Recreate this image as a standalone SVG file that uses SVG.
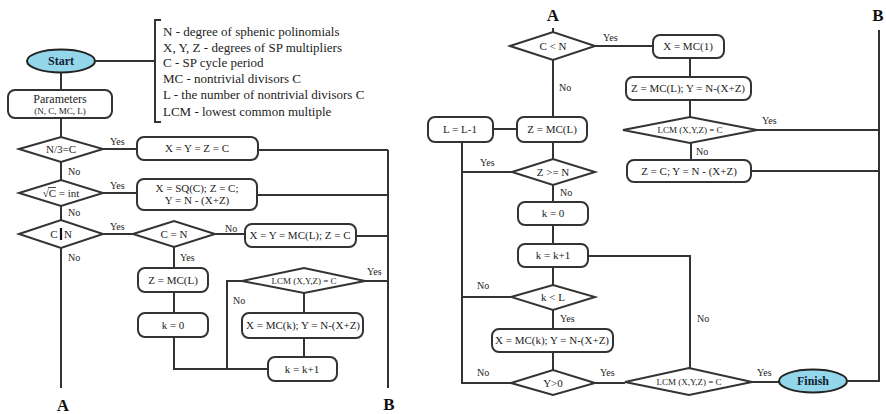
<svg xmlns="http://www.w3.org/2000/svg" width="886" height="414" viewBox="0 0 886 414">
  <style>
    .ln { stroke: #333; stroke-width: 2; fill: none; }
    .bx { fill: #fff; stroke: #333; stroke-width: 2; }
    .term { fill: #94d6ea; stroke: #222; stroke-width: 2; }
    text { font-family: "Liberation Serif", "Times New Roman", serif; fill: #222; }
    .c { text-anchor: middle; font-size: 11px; }
    .s { text-anchor: middle; font-size: 9px; }
    .lab { font-size: 10px; fill: #333; }
    .leg { font-size: 13px; }
    .big { font-size: 17px; font-weight: bold; text-anchor: middle; fill: #111; }
    .tt { font-size: 12px; font-weight: bold; text-anchor: middle; fill: #123; }
  </style>
  <rect width="886" height="414" fill="#fff"/>

  <!-- connectors -->
  <g id="connectors" class="ln">
    <!-- left half -->
    <path d="M61,72 V90"/>
    <path d="M95,61 H155"/>
    <path d="M61,118 V137"/>
    <path d="M61,162 V180"/>
    <path d="M61,206 V220"/>
    <path d="M61,248 V388"/>
    <path d="M103,149 H137"/>
    <path d="M258,150 H388"/>
    <path d="M103,193 H137"/>
    <path d="M257,195 H388"/>
    <path d="M103,234 H133"/>
    <path d="M215,234 H245"/>
    <path d="M356,236 H388"/>
    <path d="M174,247 V268"/>
    <path d="M174,292 V313"/>
    <path d="M174,337 V369 H268"/>
    <path d="M227,369 V281 H242"/>
    <path d="M365,281 H388"/>
    <path d="M304,293 V313"/>
    <path d="M304,338 V357"/>
    <path d="M388,150 V388"/>
    <!-- right half -->
    <path d="M553,28 V32"/>
    <path d="M595,46 H653"/>
    <path d="M553,60 V117"/>
    <path d="M493,129 H517"/>
    <path d="M690,58 V77"/>
    <path d="M690,100 V117"/>
    <path d="M757,130 H879"/>
    <path d="M691,143 V160"/>
    <path d="M751,171 H879"/>
    <path d="M879,30 V381 H847"/>
    <path d="M462,142 V383 H511"/>
    <path d="M462,172 H512"/>
    <path d="M553,141 V159"/>
    <path d="M553,185 V202"/>
    <path d="M553,225 V244"/>
    <path d="M553,267 V285"/>
    <path d="M462,297 H511"/>
    <path d="M553,310 V329"/>
    <path d="M553,352 V370"/>
    <path d="M588,256 H690 V368"/>
    <path d="M595,383 H625"/>
    <path d="M752,382 H779"/>
  </g>

  <!-- legend -->
  <g id="legend">
    <path class="ln" d="M161,20 H155 V122 H161"/>
    <text class="leg" x="163" y="36">N - degree of sphenic polinomials</text>
    <text class="leg" x="163" y="52">X, Y, Z - degrees of SP multipliers</text>
    <text class="leg" x="163" y="67">C - SP cycle period</text>
    <text class="leg" x="163" y="83">MC - nontrivial divisors C</text>
    <text class="leg" x="163" y="99">L - the number of nontrivial divisors C</text>
    <text class="leg" x="163" y="116">LCM - lowest common multiple</text>
  </g>

  <!-- left half nodes -->
  <g id="start">
    <ellipse class="term" cx="61" cy="61" rx="34" ry="11.5"/>
    <text class="tt" x="61" y="65">Start</text>
  </g>
  <g id="parameters">
    <rect class="bx" x="8" y="90" width="104" height="28" rx="7"/>
    <text class="c" x="60" y="103" style="font-size:12px">Parameters</text>
    <text class="s" x="60" y="114">(N, C, MC, L)</text>
  </g>
  <g id="d-n3c">
    <polygon class="bx" points="19,149 61,137 103,149 61,162"/>
    <text class="c" x="61" y="153">N/3=C</text>
  </g>
  <g id="b-xyzc">
    <rect class="bx" x="137" y="137" width="121" height="23" rx="7"/>
    <text class="c" x="197" y="152">X = Y = Z = C</text>
  </g>
  <g id="d-sqrt">
    <polygon class="bx" points="19,193 61,180 103,193 61,206"/>
    <text class="c" x="61" y="197">√C = int</text>
    <path d="M48,187.5 H56" stroke="#222" stroke-width="0.8"/>
  </g>
  <g id="b-sq">
    <rect class="bx" x="137" y="179" width="120" height="31" rx="7"/>
    <text class="c" x="197" y="192">X = SQ(C);  Z = C;</text>
    <text class="c" x="197" y="204">Y = N - (X+Z)</text>
  </g>
  <g id="d-cn">
    <polygon class="bx" points="19,234 61,220 103,234 61,248"/>
    <text class="c" x="54" y="238">C</text>
    <text class="c" x="68" y="238">N</text>
    <path d="M61,228 V240" stroke="#111" stroke-width="2.2"/>
  </g>
  <g id="d-ceqn">
    <polygon class="bx" points="133,234 174,221 215,234 174,247"/>
    <text class="c" x="174" y="238">C = N</text>
  </g>
  <g id="b-xymc">
    <rect class="bx" x="245" y="224" width="111" height="23" rx="7"/>
    <text class="c" x="300" y="239">X = Y = MC(L);  Z = C</text>
  </g>
  <g id="b-zmc1">
    <rect class="bx" x="138" y="268" width="70" height="24" rx="7"/>
    <text class="c" x="173" y="284">Z = MC(L)</text>
  </g>
  <g id="b-k0a">
    <rect class="bx" x="138" y="313" width="70" height="24" rx="7"/>
    <text class="c" x="173" y="329">k = 0</text>
  </g>
  <g id="d-lcm1">
    <polygon class="bx" points="242,281 304,268 365,281 304,293"/>
    <text class="s" x="304" y="284">LCM (X,Y,Z) = C</text>
  </g>
  <g id="b-xmk1">
    <rect class="bx" x="242" y="313" width="121" height="25" rx="7"/>
    <text class="c" x="303" y="329">X = MC(k);  Y = N-(X+Z)</text>
  </g>
  <g id="b-kk1a">
    <rect class="bx" x="268" y="357" width="69" height="24" rx="7"/>
    <text class="c" x="302" y="373">k = k+1</text>
  </g>

  <!-- right half nodes -->
  <g id="d-cltn">
    <polygon class="bx" points="510,46 553,32 595,46 553,60"/>
    <text class="c" x="553" y="50">C &lt; N</text>
  </g>
  <g id="b-xmc1">
    <rect class="bx" x="653" y="35" width="71" height="23" rx="7"/>
    <text class="c" x="688" y="50">X = MC(1)</text>
  </g>
  <g id="b-zmcy">
    <rect class="bx" x="626" y="77" width="125" height="23" rx="7"/>
    <text class="c" x="688" y="92">Z = MC(L);  Y = N-(X+Z)</text>
  </g>
  <g id="d-lcm2">
    <polygon class="bx" points="623,130 690,117 757,130 690,143"/>
    <text class="s" x="690" y="133">LCM (X,Y,Z) = C</text>
  </g>
  <g id="b-zcy">
    <rect class="bx" x="627" y="160" width="124" height="22" rx="7"/>
    <text class="c" x="689" y="175">Z = C;   Y = N - (X+Z)</text>
  </g>
  <g id="b-ll1">
    <rect class="bx" x="428" y="117" width="65" height="25" rx="7"/>
    <text class="c" x="460" y="133">L = L-1</text>
  </g>
  <g id="b-zmc2">
    <rect class="bx" x="517" y="117" width="70" height="25" rx="7"/>
    <text class="c" x="552" y="133">Z = MC(L)</text>
  </g>
  <g id="d-zgen">
    <polygon class="bx" points="512,172 553,159 595,172 553,185"/>
    <text class="c" x="553" y="176">Z &gt;= N</text>
  </g>
  <g id="b-k0b">
    <rect class="bx" x="518" y="202" width="70" height="23" rx="7"/>
    <text class="c" x="553" y="217">k = 0</text>
  </g>
  <g id="b-kk1b">
    <rect class="bx" x="518" y="244" width="70" height="23" rx="7"/>
    <text class="c" x="553" y="259">k = k+1</text>
  </g>
  <g id="d-kll">
    <polygon class="bx" points="511,297 553,285 595,297 553,310"/>
    <text class="c" x="553" y="301">k &lt; L</text>
  </g>
  <g id="b-xmk2">
    <rect class="bx" x="492" y="329" width="121" height="23" rx="7"/>
    <text class="c" x="552" y="344">X = MC(k);  Y = N-(X+Z)</text>
  </g>
  <g id="d-ygt0">
    <polygon class="bx" points="511,383 553,370 595,383 553,395"/>
    <text class="c" x="553" y="387">Y&gt;0</text>
  </g>
  <g id="d-lcm3">
    <polygon class="bx" points="625,382 689,368 752,382 689,395"/>
    <text class="s" x="689" y="385">LCM (X,Y,Z) = C</text>
  </g>
  <g id="finish">
    <ellipse class="term" cx="813" cy="381" rx="34" ry="11.5"/>
    <text class="tt" x="813" y="385">Finish</text>
  </g>

  <!-- branch labels -->
  <g id="labels" class="lab">
    <text x="110" y="145">Yes</text>
    <text x="68" y="175">No</text>
    <text x="110" y="189">Yes</text>
    <text x="68" y="216">No</text>
    <text x="110" y="230">Yes</text>
    <text x="68" y="261">No</text>
    <text x="225" y="232">No</text>
    <text x="180" y="261">Yes</text>
    <text x="367" y="275">Yes</text>
    <text x="233" y="304">No</text>
    <text x="603" y="41">Yes</text>
    <text x="559" y="91">No</text>
    <text x="762" y="124">Yes</text>
    <text x="696" y="155">No</text>
    <text x="480" y="166">Yes</text>
    <text x="560" y="196">No</text>
    <text x="477" y="289">No</text>
    <text x="560" y="322">Yes</text>
    <text x="477" y="376">No</text>
    <text x="600" y="376">Yes</text>
    <text x="697" y="322">No</text>
    <text x="757" y="376">Yes</text>
  </g>

  <!-- off-page connectors -->
  <g id="connector-labels">
    <text class="big" x="63" y="411">A</text>
    <text class="big" x="389" y="410">B</text>
    <text class="big" x="553" y="21">A</text>
    <text class="big" x="878" y="21">B</text>
  </g>
</svg>
